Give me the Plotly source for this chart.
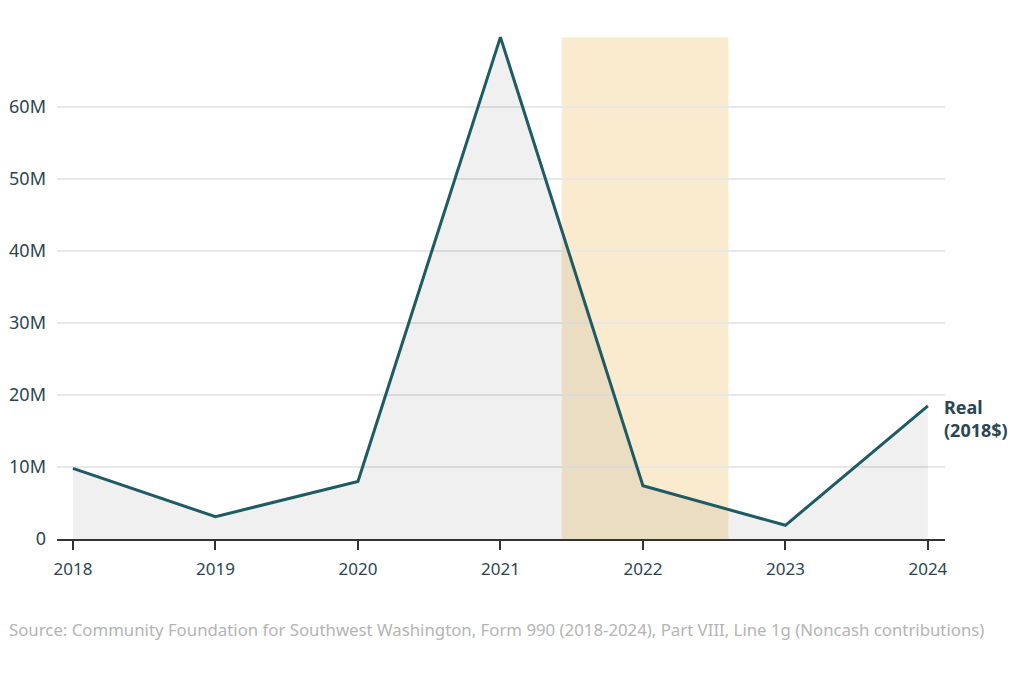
import plotly.graph_objects as go

# --- Values ---
years = [2018, 2019, 2020, 2021, 2022, 2023, 2024]
real_2018_dollars = [9.8e6, 3.1e6, 8.0e6, 69.7e6, 7.4e6, 1.9e6, 18.5e6]

y_ticks = [0, 10e6, 20e6, 30e6, 40e6, 50e6, 60e6]
y_tick_labels = ["0", "10M", "20M", "30M", "40M", "50M", "60M"]

highlight_start = 2021.43
highlight_end = 2022.6

series_label = "<b>Real<br>(2018$)</b>"
source_note = ("Source: Community Foundation for Southwest Washington, Form 990 "
               "(2018-2024), Part VIII, Line 1g (Noncash contributions)")

line_color = "#1E5B62"
text_color = "#2B4650"
font_family = "Noto Sans"

fig = go.Figure()

fig.add_trace(go.Scatter(
    x=years,
    y=real_2018_dollars,
    mode="lines",
    line=dict(color=line_color, width=3),
    fill="tozeroy",
    fillcolor="rgba(0,0,0,0.06)",
    hoverinfo="x+y",
    showlegend=False,
))

# --- Highlighted period ---
fig.add_shape(
    type="rect",
    xref="x", yref="y",
    x0=highlight_start, x1=highlight_end,
    y0=0, y1=max(real_2018_dollars),
    fillcolor="#FAEBCF",
    line=dict(width=0),
    layer="below",
)

# --- End label ---
fig.add_annotation(
    x=years[-1], y=real_2018_dollars[-1],
    xref="x", yref="y",
    text=series_label,
    showarrow=False,
    xanchor="left", yanchor="top",
    xshift=14, yshift=13,
    align="left",
    font=dict(family=font_family, size=18, color=text_color),
)

# --- Source note ---
fig.add_annotation(
    x=-0.056, y=-0.18,
    xref="paper", yref="paper",
    text=source_note,
    showarrow=False,
    xanchor="left", yanchor="middle",
    font=dict(family=font_family, size=16.8, color="#B4B4B4"),
)

fig.update_layout(
    width=1024, height=681,
    margin=dict(l=49, r=87, t=27, b=150),
    paper_bgcolor="white",
    plot_bgcolor="white",
    font=dict(family=font_family, size=17, color=text_color),
    xaxis=dict(
        range=[2017.888, 2024.12],
        tickvals=years,
        ticks="outside",
        ticklen=9,
        tickwidth=1.5,
        tickcolor="#333333",
        ticklabelstandoff=5,
        showline=True,
        linecolor="#333333",
        linewidth=1.5,
        showgrid=False,
        zeroline=False,
        automargin=False,
        tickfont=dict(size=17, color=text_color),
    ),
    yaxis=dict(
        range=[0, 70e6],
        tickvals=y_ticks,
        ticktext=y_tick_labels,
        showgrid=True,
        gridcolor="#E8E8E8",
        gridwidth=1.5,
        zeroline=False,
        ticks="",
        ticklabelstandoff=10,
        automargin=False,
        tickfont=dict(size=18, color=text_color),
    ),
)

fig.write_html("out.html")
